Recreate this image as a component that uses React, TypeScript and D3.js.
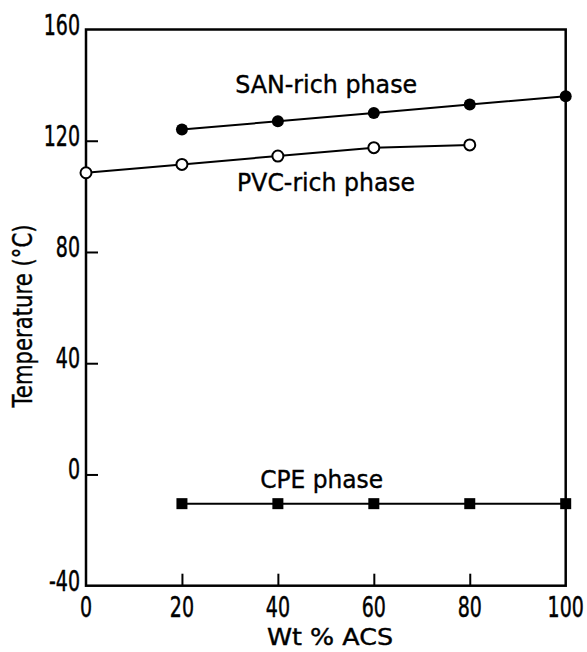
import { useEffect, useRef } from "react";
import * as d3 from "d3";

// Data
const wtAcs = [0, 20, 40, 60, 80, 100];
const sanX = [20, 40, 60, 80, 100];
const sanTemp = [124, 127, 130, 133, 136];
const pvcX = [0, 20, 40, 60, 80];
const pvcTemp = [108.5, 111.5, 114.5, 117.5, 118.5];
const cpeX = [20, 40, 60, 80, 100];
const cpeTemp = [-10.5, -10.5, -10.5, -10.5, -10.5];
const yTicks = [-40, 0, 40, 80, 120, 160];

const W = 587;
const H = 652;

const App = () => {
    const svgRef = useRef<SVGSVGElement>(null);

    useEffect(() => {
        if (!svgRef.current) return;
        const svg = d3.select(svgRef.current);
        svg.selectAll("*").remove();

        const margin = { top: 29.5, right: 21.3, bottom: 66.3, left: 86 };
        const innerW = W - margin.left - margin.right;
        const innerH = H - margin.top - margin.bottom;

        const x = d3.scaleLinear().domain([0, 100]).range([0, innerW]);
        const y = d3.scaleLinear().domain([-40, 160]).range([innerH, 0]);

        const font = "'DejaVu Sans', sans-serif";
        const g = svg.append("g").attr("transform", `translate(${margin.left},${margin.top})`);

        // Inner ticks
        g.append("g")
            .attr("transform", `translate(0,${innerH})`)
            .call(d3.axisBottom(x).tickValues(wtAcs.slice(1, -1)).tickSize(-12).tickFormat(() => "") as any)
            .call((a) => a.select(".domain").remove())
            .selectAll("line")
            .attr("stroke", "#000")
            .attr("stroke-width", 2);

        g.append("g")
            .call(d3.axisLeft(y).tickValues(yTicks.slice(1, -1)).tickSize(-12).tickFormat(() => "") as any)
            .call((a) => a.select(".domain").remove())
            .selectAll("line")
            .attr("stroke", "#000")
            .attr("stroke-width", 2);

        // Frame
        g.append("rect")
            .attr("x", 0)
            .attr("y", 0)
            .attr("width", innerW)
            .attr("height", innerH)
            .attr("fill", "none")
            .attr("stroke", "#000")
            .attr("stroke-width", 2.5);

        // Tick labels (condensed, like the plotter font)
        wtAcs.forEach((v) => {
            g.append("g")
                .attr("transform", `translate(${x(v)},${innerH + 31}) scale(0.68,1)`)
                .append("text")
                .attr("text-anchor", "middle")
                .attr("font-family", font)
                .attr("font-size", 28)
                .attr("fill", "#000")
                .attr("stroke", "#000")
                .attr("stroke-width", 0.5)
                .text(v);
        });
        yTicks.forEach((v) => {
            g.append("g")
                .attr("transform", `translate(-6,${y(v) + 5}) scale(0.68,1)`)
                .append("text")
                .attr("text-anchor", "end")
                .attr("font-family", font)
                .attr("font-size", 28)
                .attr("fill", "#000")
                .attr("stroke", "#000")
                .attr("stroke-width", 0.5)
                .text(v);
        });

        // Axis titles
        svg.append("text")
            .attr("x", 330)
            .attr("y", 645)
            .attr("text-anchor", "middle")
            .attr("font-family", font)
            .attr("font-size", 23)
            .attr("textLength", 126)
            .attr("lengthAdjust", "spacingAndGlyphs")
            .attr("stroke", "#000")
            .attr("stroke-width", 0.4)
            .text("Wt % ACS");

        svg.append("text")
            .attr("transform", "translate(32,316) rotate(-90)")
            .attr("text-anchor", "middle")
            .attr("font-family", font)
            .attr("font-size", 26)
            .attr("textLength", 183)
            .attr("lengthAdjust", "spacingAndGlyphs")
            .attr("stroke", "#000")
            .attr("stroke-width", 0.4)
            .text("Temperature (°C)");

        const line = d3.line<[number, number]>().x((d) => x(d[0])).y((d) => y(d[1]));
        const drawLine = (xs: number[], ys: number[]) =>
            g.append("path")
                .datum(xs.map((v, i) => [v, ys[i]] as [number, number]))
                .attr("d", line)
                .attr("fill", "none")
                .attr("stroke", "#000")
                .attr("stroke-width", 2);

        drawLine(sanX, sanTemp);
        drawLine(pvcX, pvcTemp);
        drawLine(cpeX, cpeTemp);

        // Markers
        g.selectAll(".san")
            .data(sanX)
            .enter()
            .append("circle")
            .attr("cx", (d) => x(d))
            .attr("cy", (_, i) => y(sanTemp[i]))
            .attr("r", 6)
            .attr("fill", "#000");

        g.selectAll(".pvc")
            .data(pvcX)
            .enter()
            .append("circle")
            .attr("cx", (d) => x(d))
            .attr("cy", (_, i) => y(pvcTemp[i]))
            .attr("r", 5.5)
            .attr("fill", "#fff")
            .attr("stroke", "#000")
            .attr("stroke-width", 2);

        g.selectAll(".cpe")
            .data(cpeX)
            .enter()
            .append("rect")
            .attr("x", (d) => x(d) - 5.5)
            .attr("y", (_, i) => y(cpeTemp[i]) - 5.5)
            .attr("width", 11)
            .attr("height", 11)
            .attr("fill", "#000");

        // Series labels
        const labels: [string, number, number, number][] = [
            ["SAN-rich phase", 31.1, 137.2, 182],
            ["PVC-rich phase", 31.5, 101.9, 178],
            ["CPE phase", 36.3, -4.9, 123],
        ];
        labels.forEach(([t, lx, ly, len]) => {
            g.append("text")
                .attr("x", x(lx))
                .attr("y", y(ly))
                .attr("font-family", font)
                .attr("font-size", 25)
                .attr("textLength", len)
                .attr("lengthAdjust", "spacingAndGlyphs")
                .attr("fill", "#000")
                .attr("stroke", "#000")
                .attr("stroke-width", 0.4)
                .text(t);
        });
    }, []);

    return (
        <svg
            ref={svgRef}
            width={W}
            height={H}
            style={{ position: "absolute", left: 0, top: 0, background: "#fff", display: "block" }}
        />
    );
};

export default App;
